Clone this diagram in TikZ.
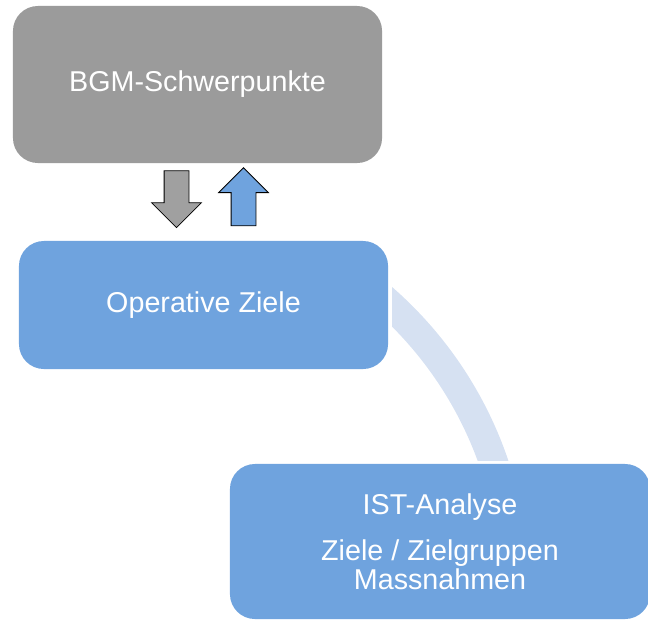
\documentclass[tikz,border=0pt]{standalone}
\usepackage{fontspec}
\setmainfont{Liberation Sans}
\usetikzlibrary{shapes.arrows}
\definecolor{boxgray}{RGB}{155,155,155}
\definecolor{boxblue}{RGB}{111,163,222}
\definecolor{bandblue}{RGB}{214,225,242}
\definecolor{arrowgray}{RGB}{160,160,160}

\begin{document}
\begin{tikzpicture}[x=0.025cm, y=-0.025cm,
    font=\fontsize{20.4}{18.6}\selectfont,
    block/.style={rounded corners=0.625cm, text=white, align=center, inner sep=0pt},
    blockarrow/.style={single arrow, draw=black, line width=0.6pt, inner sep=0.3cm,
        single arrow head extend=0.31cm}]
    \useasboundingbox (0, 0) rectangle (648, 619);

    % light band behind the boxes
    \begin{scope}
        \clip (392, 0) rectangle (648, 460);
        \fill[bandblue, even odd rule] (130, 588) circle[radius=9.975cm]
            (130, 588) circle[radius=9.25cm];
    \end{scope}

    \node (bgm) [block, fill=boxgray, minimum width=9.225cm, minimum height=3.925cm]
        at (197.5, 84.5) {BGM-Schwerpunkte};
    \node (ziele) [block, fill=boxblue, minimum width=9.225cm, minimum height=3.2cm]
        at (203.5, 305) {Operative Ziele};
    \node (ist) [block, fill=boxblue, minimum width=10.5cm, minimum height=3.875cm]
        at (440, 541.5) {IST-Analyse\\[13pt] Ziele / Zielgruppen\\ Massnahmen};

    \node (down) [blockarrow, fill=arrowgray, minimum height=1.42cm, shape border rotate=270]
        at (176.5, 193) {};
    \node (up) [blockarrow, fill=boxblue, minimum height=1.45cm, shape border rotate=90]
        at (243.5, 203) {};
\end{tikzpicture}
\end{document}
